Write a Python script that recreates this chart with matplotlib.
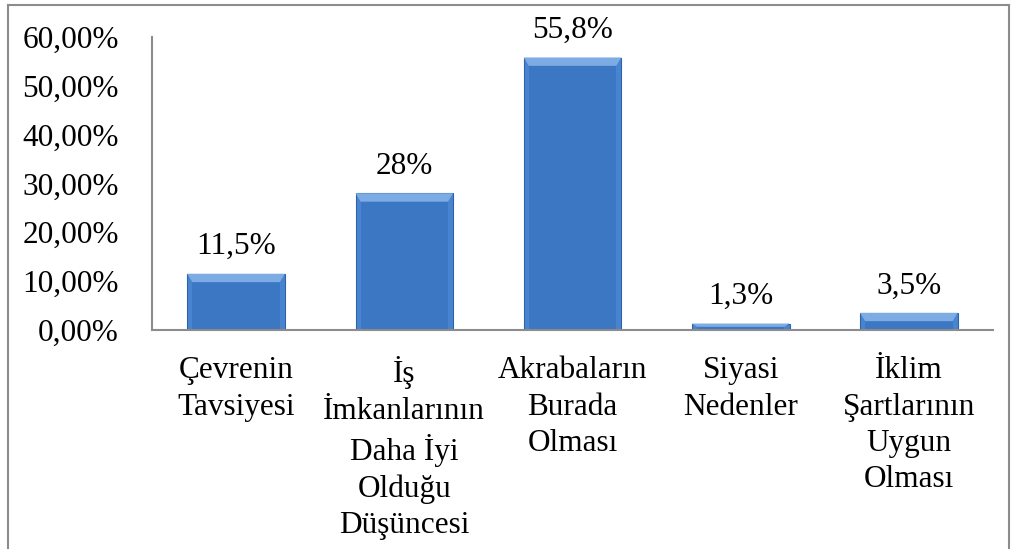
import matplotlib.pyplot as plt
from matplotlib.lines import Line2D
from matplotlib.patches import Polygon

categories = ["Çevrenin\nTavsiyesi",
              "İş\nİmkanlarının\nDaha İyi\nOlduğu\nDüşüncesi",
              "Akrabaların\nBurada\nOlması",
              "Siyasi\nNedenler",
              "İklim\nŞartlarının\nUygun\nOlması"]
values = [11.5, 28.0, 55.8, 1.3, 3.5]
value_labels = ["11,5%", "28%", "55,8%", "1,3%", "3,5%"]
yticks = [0, 10, 20, 30, 40, 50, 60]
ytick_labels = ["0,00%", "10,00%", "20,00%", "30,00%", "40,00%", "50,00%", "60,00%"]

plt.rcParams['font.family'] = ['Liberation Serif', 'DejaVu Serif']
fs = 22.5

fig = plt.figure(figsize=(10.16, 5.49), dpi=100)
ax = fig.add_axes([0.1496, 0.399, 0.8278, 0.5336])

x = list(range(len(values)))
w = 0.58
dx = 0.03
ax.bar(x, values, width=w, color='#4884D0', edgecolor='#2F62A6', linewidth=0.8, zorder=2)
for xi, v in zip(x, values):
    dy = min(1.7, v * 0.5)
    # inner face
    ax.bar(xi, v - dy, width=w - 2 * dx, color='#3B77C3', zorder=3)
    # top bevel
    ax.add_patch(Polygon([(xi - w / 2, v), (xi + w / 2, v),
                          (xi + w / 2 - dx, v - dy), (xi - w / 2 + dx, v - dy)],
                         closed=True, color='#7DABE3', zorder=4, lw=0))
    ax.annotate(value_labels[xi], (xi, v), xytext=(0, 9), textcoords='offset points',
                ha='center', va='bottom', fontsize=fs)

ax.set_xlim(-0.5, len(values) - 0.5)
ax.set_ylim(0, 60)
ax.set_yticks(yticks)
ax.set_yticklabels(ytick_labels, fontsize=fs)
ax.set_xticks(x)
ax.set_xticklabels(categories, fontsize=fs, linespacing=1.33, va='top')
ax.tick_params(axis='y', length=0, pad=24)
ax.tick_params(axis='x', length=0, pad=19)

for s in ['top', 'right']:
    ax.spines[s].set_visible(False)
for s in ['left', 'bottom']:
    ax.spines[s].set_color('#8C8C8C')
    ax.spines[s].set_linewidth(1.5)
    ax.spines[s].set_zorder(5)

# chart area border
border = dict(color='#8C8C8C', lw=1.5, transform=fig.transFigure)
fig.add_artist(Line2D([0.008, 0.008], [0.991, 0.0], **border))
fig.add_artist(Line2D([0.008, 0.993], [0.991, 0.991], **border))
fig.add_artist(Line2D([0.993, 0.993], [0.991, 0.0], **border))

fig.savefig('out.png', dpi=100)
